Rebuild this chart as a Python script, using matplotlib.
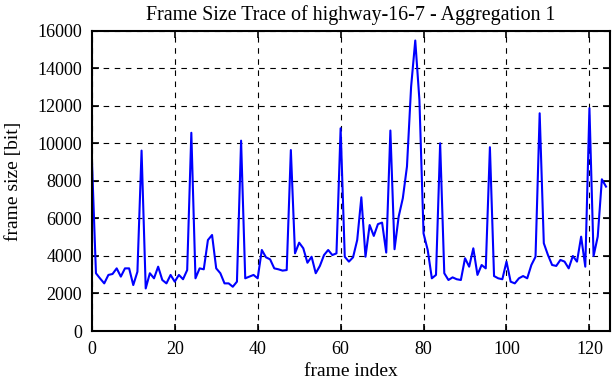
import numpy as np
import matplotlib
matplotlib.use("Agg")
import matplotlib.pyplot as plt

# frame sizes (bit), frames 0..124
frame_size = [
    9300, 3080, 2800, 2540, 2990, 3040, 3340, 2900, 3340, 3340,
    2450, 3160, 9620, 2270, 3080, 2810, 3430, 2720, 2540, 2990,
    2630, 2990, 2760, 3250, 10570, 2810, 3340, 3290, 4850, 5120,
    3340, 3080, 2540, 2540, 2360, 2630, 10150, 2810, 2900, 2990,
    2810, 4320, 3930, 3820, 3340, 3290, 3220, 3250, 9650, 4140,
    4710, 4410, 3640, 3960, 3080, 3470, 4050, 4320, 4050, 4140,
    10810, 3960, 3700, 3930, 4850, 7130, 3960, 5650, 5070, 5700,
    5780, 4180, 10690, 4360, 6100, 7080, 8770, 13030, 15490, 12320,
    5200, 4320, 2810, 2990, 10010, 3080, 2720, 2860, 2760, 2720,
    3880, 3430, 4410, 2990, 3520, 3340, 9800, 2930, 2810, 2760,
    3700, 2630, 2540, 2810, 2930, 2810, 3520, 3960, 11610, 4680,
    4050, 3520, 3470, 3790, 3700, 3340, 4000, 3700, 5030, 3430,
    11880, 4000, 5030, 8090, 7700,
]
frame_index = np.arange(len(frame_size))

xticks = [0, 20, 40, 60, 80, 100, 120]
yticks = [0, 2000, 4000, 6000, 8000, 10000, 12000, 14000, 16000]

plt.rcParams['font.family'] = ['Liberation Serif', 'DejaVu Serif']
plt.rcParams['font.size'] = 13

fig = plt.figure(figsize=(6.12, 3.82), dpi=100)
ax = fig.add_axes([0.150, 0.1335, 0.847, 0.7855])

ax.plot(frame_index, frame_size, color='#0000ff', lw=1.5)

ax.set_xlim(0, 125)
ax.set_ylim(0, 16000)
ax.set_xticks(xticks)
ax.set_yticks(yticks)
ax.grid(True, color='black', ls=(0, (5, 5)), lw=0.8)
ax.tick_params(direction='in', length=5, width=1.2, top=True, right=True,
               labelsize=13)
ax.tick_params(axis='x', pad=7)
ax.tick_params(axis='y', pad=7)
for s in ax.spines.values():
    s.set_linewidth(1.5)

ax.set_title('Frame Size Trace of highway-16-7 - Aggregation 1', fontsize=14.4, pad=8)
ax.set_xlabel('frame index', fontsize=14, labelpad=4)
ax.set_ylabel('frame size [bit]', fontsize=14, labelpad=11)

fig.savefig('out.png', dpi=100)
